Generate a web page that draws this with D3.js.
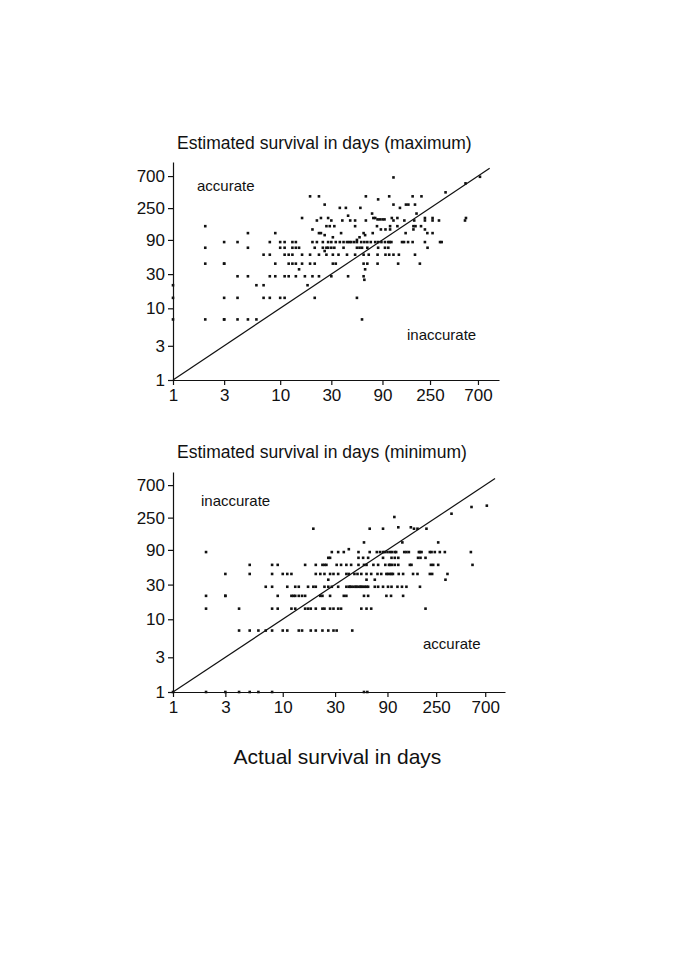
<!DOCTYPE html>
<html>
<head>
<meta charset="utf-8">
<script src="https://cdn.jsdelivr.net/npm/d3@7"></script>
<style>
  body { margin: 0; background: #fff; }
  text { font-family: "Liberation Sans", Arial, sans-serif; fill: #111; }
</style>
</head>
<body>
<script>
// tick labels shared by both panels
var tickValues = [1, 3, 10, 30, 90, 250, 700];

// top panel: estimated maximum survival (days), grouped by estimate level
var maxLevels = [7, 14, 21, 25, 28, 35, 42, 56, 63, 70, 84, 90, 98, 105, 112, 126, 140,
                 168, 174, 182, 196, 210, 252, 280, 331, 365, 415, 554, 670, 684];
// actual survival (days) of the patients at each level above
var maxActual = [
  [1, 2, 3, 3, 4, 5, 6, 58],
  [1, 3, 4, 7, 8, 10, 11, 21, 52],
  [1, 6, 7, 18],
  [61],
  [4, 5, 8, 9, 11, 12, 14, 17, 20, 23, 30, 43, 60],
  [15, 62],
  [2, 3, 3, 9, 12, 13, 14, 16, 19, 21, 31, 33, 60, 65, 81, 126, 201],
  [7, 8, 11, 12, 13, 16, 19, 23, 27, 31, 35, 42, 50, 60, 67, 81, 96, 104, 114, 128, 181],
  [26],
  [2, 5, 10, 11, 13, 14, 15, 21, 25, 27, 28, 30, 32, 39, 52, 55, 58, 65, 82, 95, 102, 237],
  [3, 4, 8, 10, 11, 13, 14, 20, 22, 25, 28, 30, 33, 36, 39, 42, 44, 46, 49, 52, 57, 61, 65,
   70, 77, 82, 88, 95, 102, 105, 109, 137, 143, 156, 172, 224, 310, 321],
  [52],
  [31, 55],
  [26, 62],
  [5, 9, 23, 24, 37, 60, 73, 148, 236, 264],
  [20, 87, 96, 106, 175, 224],
  [2, 27, 29, 32, 50, 80, 106, 124, 175, 183, 206],
  [22, 30, 38, 45, 50, 63, 114, 144, 178, 224, 264, 303, 530],
  [81, 85, 90, 94],
  [16, 24, 28, 74, 77, 110, 124, 224, 264, 541],
  [43],
  [72, 187],
  [36, 41, 56, 131],
  [26, 114, 149, 157, 181],
  [82],
  [19, 23, 63, 104, 172, 208],
  [349],
  [536],
  [114],
  [731]
];

// bottom panel: estimated minimum survival (days)
var minLevels = [1, 7, 14, 21, 28, 35, 42, 56, 70, 84, 92, 114, 176, 184, 255, 283, 350, 365];
var minActual = [
  [1, 2, 3, 4, 5, 6, 8, 55, 59],
  [4, 5, 6, 7, 8, 10, 11, 14, 15, 18, 20, 23, 26, 29, 31, 43],
  [2, 4, 8, 9, 12, 13, 16, 17, 18, 20, 23, 24, 27, 29, 32, 34, 52, 58, 64, 200],
  [2, 3, 3, 9, 12, 12.5, 13, 14, 15, 16, 22, 23, 27, 36, 38, 55, 60, 88, 97, 125],
  [7, 8, 11, 13, 14, 17, 19, 20, 24, 26, 28, 32, 38, 40, 41, 42, 44, 46, 47, 49, 51, 52, 54,
   56, 58, 60, 69, 74, 82, 91, 98, 111, 122, 134, 178],
  [26, 58, 69, 304],
  [3, 5, 8, 10, 11, 12, 20, 22, 24, 27, 29, 32, 38, 40, 45, 48, 52, 58, 64, 73, 79, 88, 91,
   95, 98, 101, 114, 125, 154, 169, 219, 230, 317],
  [5, 8, 9, 16, 20, 23, 24, 25, 31, 34, 38, 42, 49, 55, 58, 67, 74, 86, 93, 95, 99, 105, 113,
   144, 149, 224, 235, 261, 536],
  [26, 27, 49, 54, 60, 82, 98, 105, 113, 171, 180, 200],
  [2, 28, 32, 36, 49, 62, 72, 77, 82, 85, 90, 95, 99, 105, 108, 128, 134, 141, 174, 178, 184,
   219, 227, 243, 270, 300, 518],
  [40],
  [55, 123, 261],
  [19, 62, 82, 157, 169, 204],
  [113, 147],
  [104],
  [345],
  [525],
  [724]
];

var width = 685;
var height = 970;

var svg = d3.select("body")
  .append("svg")
  .attr("width", width)
  .attr("height", height);

function drawPanel(p) {
  var x = d3.scaleLog().domain([1, p.maxDomain]).range([p.left, p.right]);
  var y = d3.scaleLog().domain([1, p.maxDomain]).range([p.bottom, p.top]);

  // flatten level/actual groups into points
  var pts = [];
  p.levels.forEach(function (lv, i) {
    p.actual[i].forEach(function (a) { pts.push([a, lv]); });
  });

  var g = svg.append("g");

  var xAxis = d3.axisBottom(x).tickValues(tickValues).tickFormat(d3.format("d"))
    .tickSize(5).tickSizeOuter(0).tickPadding(4);
  var yAxis = d3.axisLeft(y).tickValues(tickValues).tickFormat(d3.format("d"))
    .tickSize(5).tickSizeOuter(0).tickPadding(3);

  var gx = g.append("g").attr("transform", "translate(0," + p.bottom + ")").call(xAxis);
  var gy = g.append("g").attr("transform", "translate(" + p.left + ",0)").call(yAxis);
  [gx, gy].forEach(function (a) {
    a.selectAll("path, line").attr("stroke", "#111").attr("stroke-width", 1.2);
    a.selectAll("text").attr("font-size", 17).attr("fill", "#111")
      .style("font-family", "'Liberation Sans', Arial, sans-serif");
  });

  // line of agreement
  g.append("line")
    .attr("x1", x(1)).attr("y1", y(1))
    .attr("x2", x(p.lineEnd)).attr("y2", y(p.lineEnd))
    .attr("stroke", "#111").attr("stroke-width", 1.2);

  g.selectAll("rect.pt")
    .data(pts)
    .enter()
    .append("rect")
    .attr("class", "pt")
    .attr("x", function (d) { return x(d[0]) - 1.3; })
    .attr("y", function (d) { return y(d[1]) - 1.3; })
    .attr("width", 2.6)
    .attr("height", 2.6)
    .attr("fill", "#111");

  g.append("text").attr("x", p.left + 4).attr("y", p.titleY)
    .attr("font-size", 17.5).text(p.title);

  p.notes.forEach(function (n) {
    g.append("text").attr("x", n[1]).attr("y", n[2]).attr("font-size", 15).text(n[0]);
  });
}

drawPanel({
  levels: maxLevels, actual: maxActual, maxDomain: 1100, lineEnd: 900,
  left: 173, right: 499, top: 162, bottom: 380, titleY: 149,
  title: "Estimated survival in days (maximum)",
  notes: [["accurate", 197, 191], ["inaccurate", 407, 340]]
});

drawPanel({
  levels: minLevels, actual: minActual, maxDomain: 1060, lineEnd: 860,
  left: 173, right: 505, top: 472, bottom: 692, titleY: 458,
  title: "Estimated survival in days (minimum)",
  notes: [["inaccurate", 201, 506], ["accurate", 423, 649]]
});

svg.append("text")
  .attr("x", 337.5).attr("y", 764)
  .attr("text-anchor", "middle")
  .attr("font-size", 21)
  .text("Actual survival in days");
</script>
</body>
</html>
